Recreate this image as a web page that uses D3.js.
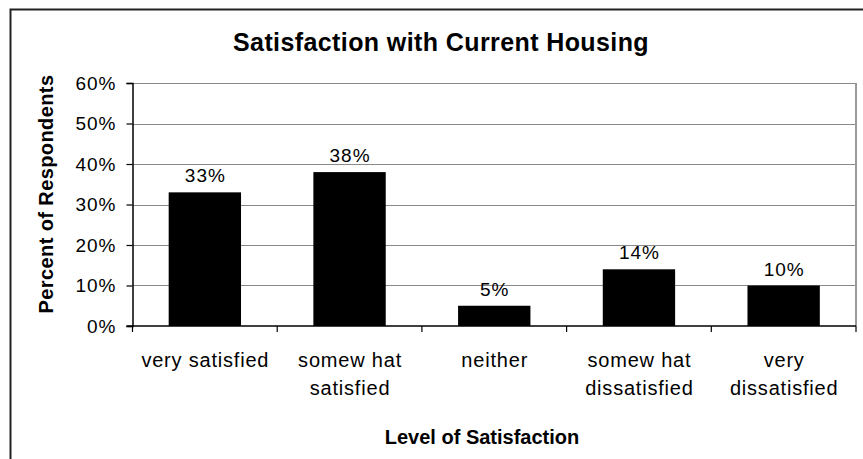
<!DOCTYPE html>
<html>
<head>
<meta charset="utf-8">
<script src="https://cdn.jsdelivr.net/npm/d3@7"></script>
<style>
  html, body { margin: 0; padding: 0; background: #fff; }
  svg { display: block; }
  text { font-family: "Liberation Sans", Arial, sans-serif; fill: #000; }
</style>
</head>
<body>
<svg id="chart" width="863" height="459"></svg>
<script>
const categories = [
  ["very satisfied"],
  ["somew hat", "satisfied"],
  ["neither"],
  ["somew hat", "dissatisfied"],
  ["very", "dissatisfied"]
];
const values = [0.33, 0.38, 0.05, 0.14, 0.10];
const valueLabels = ["33%", "38%", "5%", "14%", "10%"];
const yTicks = [0, 0.1, 0.2, 0.3, 0.4, 0.5, 0.6];
const yTickLabels = ["0%", "10%", "20%", "30%", "40%", "50%", "60%"];
const chartTitle = "Satisfaction with Current Housing";
const xTitle = "Level of Satisfaction";
const yTitle = "Percent of Respondents";

const svg = d3.select("#chart");

// outer frame
svg.append("rect")
  .attr("x", 10.5).attr("y", 9.5)
  .attr("width", 900).attr("height", 500)
  .attr("fill", "#fff").attr("stroke", "#222").attr("stroke-width", 2);

const pLeft = 132.5, pRight = 856, pTop = 83, pBottom = 326;

const x = d3.scaleBand()
  .domain(d3.range(categories.length))
  .range([pLeft, pRight])
  .paddingInner(0.5)
  .paddingOuter(0.25);

const y = d3.scaleLinear().domain([0, 0.6]).range([pBottom, pTop]);

// gridlines
svg.append("g")
  .selectAll("line")
  .data(yTicks.filter(t => t > 0))
  .join("line")
  .attr("x1", pLeft).attr("x2", pRight)
  .attr("y1", d => Math.round(y(d)) + 0.5).attr("y2", d => Math.round(y(d)) + 0.5)
  .attr("stroke", "#8a8a8a").attr("stroke-width", 1.2);

// right border of plot
svg.append("line")
  .attr("x1", pRight).attr("x2", pRight)
  .attr("y1", pTop).attr("y2", pBottom)
  .attr("stroke", "#9a9a9a").attr("stroke-width", 2);

// bars
svg.append("g")
  .selectAll("rect")
  .data(values)
  .join("rect")
  .attr("x", (d, i) => x(i))
  .attr("width", x.bandwidth())
  .attr("y", d => y(d))
  .attr("height", d => y(0) - y(d))
  .attr("fill", "#000");

// value labels
svg.append("g")
  .selectAll("text")
  .data(values)
  .join("text")
  .attr("x", (d, i) => x(i) + x.bandwidth() / 2 + 0.5)
  .attr("y", d => y(d) - 10)
  .attr("text-anchor", "middle")
  .attr("font-size", 19)
  .attr("letter-spacing", 1)
  .text((d, i) => valueLabels[i]);

// y axis
const yAxis = d3.axisLeft(y)
  .tickValues(yTicks)
  .tickFormat((d, i) => yTickLabels[i])
  .tickSize(6)
  .tickPadding(10);
const gy = svg.append("g").attr("transform", `translate(${pLeft},0)`).call(yAxis);
gy.select(".domain").attr("stroke", "#000").attr("stroke-width", 1.5);
gy.selectAll(".tick line").attr("stroke", "#000").attr("stroke-width", 1.2);
gy.selectAll(".tick text")
  .attr("font-size", 19)
  .attr("letter-spacing", 1)
  .attr("font-family", "Liberation Sans, Arial, sans-serif")
  .attr("fill", "#000");

// x axis baseline + category separator ticks
svg.append("line")
  .attr("x1", pLeft - 6).attr("x2", pRight)
  .attr("y1", pBottom).attr("y2", pBottom)
  .attr("stroke", "#000").attr("stroke-width", 1.5);
const step = x.step();
svg.append("g")
  .selectAll("line")
  .data(d3.range(categories.length + 1))
  .join("line")
  .attr("x1", i => pLeft + i * step).attr("x2", i => pLeft + i * step)
  .attr("y1", pBottom).attr("y2", pBottom + 6)
  .attr("stroke", "#000").attr("stroke-width", 1.2);

// category labels
const catG = svg.append("g")
  .selectAll("text")
  .data(categories)
  .join("text")
  .attr("text-anchor", "middle")
  .attr("font-size", 20)
  .attr("letter-spacing", 0.8);
catG.each(function(lines, i) {
  const t = d3.select(this);
  lines.forEach((ln, j) => {
    t.append("tspan")
      .attr("x", x(i) + x.bandwidth() / 2 + 0.5)
      .attr("y", 367 + j * 28)
      .text(ln);
  });
});

// title
svg.append("text")
  .attr("x", 441).attr("y", 51)
  .attr("text-anchor", "middle")
  .attr("font-size", 25)
  .attr("font-weight", "bold")
  .attr("letter-spacing", 0.4)
  .text(chartTitle);

// x title
svg.append("text")
  .attr("x", 482).attr("y", 444)
  .attr("text-anchor", "middle")
  .attr("font-size", 20)
  .attr("font-weight", "bold")
  .attr("letter-spacing", 0)
  .text(xTitle);

// y title
svg.append("text")
  .attr("transform", "translate(53,194) rotate(-90)")
  .attr("text-anchor", "middle")
  .attr("font-size", 20)
  .attr("font-weight", "bold")
  .attr("letter-spacing", 0.4)
  .text(yTitle);
</script>
</body>
</html>
